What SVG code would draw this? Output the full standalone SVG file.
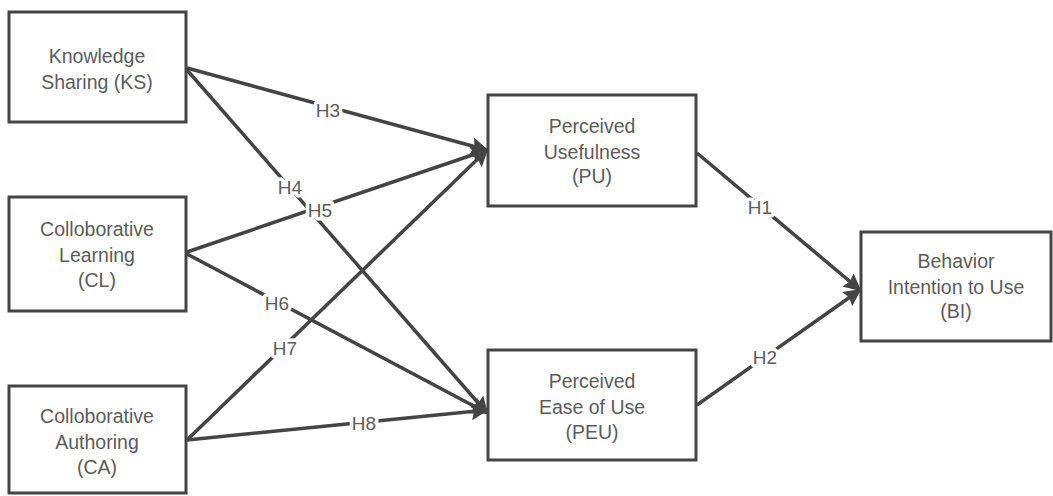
<svg xmlns="http://www.w3.org/2000/svg" width="1053" height="496" viewBox="0 0 1053 496">
<style>
.box{fill:#fff;stroke:#444;stroke-width:3}
.t{font-family:"Liberation Sans",Arial,sans-serif;font-size:19.5px;fill:#5c5c5c;text-anchor:middle}
.c{stroke:#444;stroke-width:3.5;fill:none;marker-end:url(#ah)}
.lb{font-family:"Liberation Sans",Arial,sans-serif;font-size:19px;fill:#5c5c5c;text-anchor:middle;stroke:#fff;stroke-width:7;paint-order:stroke;stroke-linejoin:round}
</style>
<defs>
<marker id="ah" viewBox="0 0 10 10" refX="9" refY="5" markerWidth="6" markerHeight="5" markerUnits="strokeWidth" orient="auto">
<path d="M0,0 L10,5 L0,10 L1.5,5 Z" fill="#444"/>
</marker>
</defs>
<rect width="1053" height="496" fill="#fff"/>
<g id="connectors">
<line class="c" x1="187" y1="68" x2="487" y2="150"/>
<line class="c" x1="187" y1="70" x2="487" y2="413"/>
<line class="c" x1="187" y1="252" x2="487" y2="150"/>
<line class="c" x1="187" y1="254" x2="487" y2="413"/>
<line class="c" x1="187" y1="440" x2="487" y2="150"/>
<line class="c" x1="187" y1="440" x2="487" y2="410"/>
<line class="c" x1="697" y1="153" x2="860" y2="290"/>
<line class="c" x1="697" y1="405" x2="860" y2="290"/>
<text class="lb" x="328" y="117">H3</text>
<text class="lb" x="290" y="194">H4</text>
<text class="lb" x="320" y="217">H5</text>
<text class="lb" x="277" y="310">H6</text>
<text class="lb" x="285" y="355">H7</text>
<text class="lb" x="364" y="430">H8</text>
<text class="lb" x="760" y="214">H1</text>
<text class="lb" x="765" y="364">H2</text>
</g>
<g id="KS">
<rect class="box" x="9" y="12" width="177" height="110"/>
<text class="t" x="97" y="63">Knowledge</text>
<text class="t" x="97" y="89">Sharing (KS)</text>
</g>
<g id="CL">
<rect class="box" x="9" y="197" width="177" height="114"/>
<text class="t" x="97" y="236">Colloborative</text>
<text class="t" x="97" y="262">Learning</text>
<text class="t" x="97" y="287">(CL)</text>
</g>
<g id="CA">
<rect class="box" x="9" y="386" width="177" height="107"/>
<text class="t" x="97" y="423">Colloborative</text>
<text class="t" x="97" y="449">Authoring</text>
<text class="t" x="97" y="474">(CA)</text>
</g>
<g id="PU">
<rect class="box" x="488" y="95" width="208" height="111"/>
<text class="t" x="592" y="133">Perceived</text>
<text class="t" x="592" y="159">Usefulness</text>
<text class="t" x="592" y="183">(PU)</text>
</g>
<g id="PEU">
<rect class="box" x="488" y="350" width="208" height="110"/>
<text class="t" x="592" y="388">Perceived</text>
<text class="t" x="592" y="414">Ease of Use</text>
<text class="t" x="592" y="439">(PEU)</text>
</g>
<g id="BI">
<rect class="box" x="861" y="232" width="190" height="109"/>
<text class="t" x="956" y="268">Behavior</text>
<text class="t" x="956" y="294">Intention to Use</text>
<text class="t" x="956" y="318">(BI)</text>
</g>
</svg>
